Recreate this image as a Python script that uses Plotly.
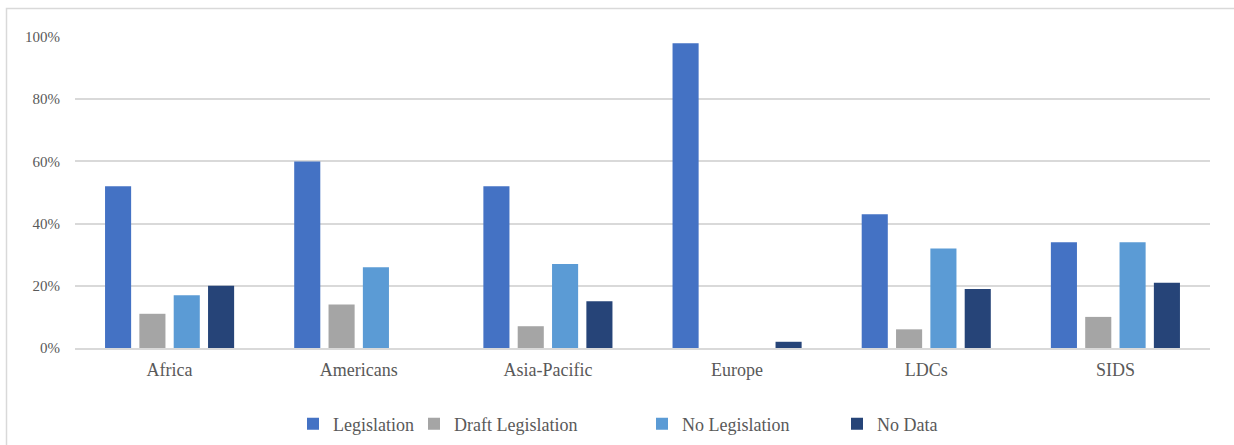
import plotly.graph_objects as go

categories = ["Africa", "Americans", "Asia-Pacific", "Europe", "LDCs", "SIDS"]
legislation = [52, 60, 52, 98, 43, 34]
draft_legislation = [11, 14, 7, 0, 6, 10]
no_legislation = [17, 26, 27, 0, 32, 34]
no_data = [20, 0, 15, 2, 19, 21]

series_names = ["Legislation", "Draft Legislation", "No Legislation", "No Data"]
series_values = [legislation, draft_legislation, no_legislation, no_data]
colors = ["#4472C4", "#A5A5A5", "#5B9BD5", "#264478"]

W, H = 1234, 445
L, R, T, B = 75, 24, 37, 97
pw, ph = W - L - R, H - T - B

def px_x(p):
    return (p - L) / pw

def px_y(p):
    return (H - B - p) / ph

font_family = "Liberation Serif"
txt_color = "#595959"

legend_ids = ["legend", "legend2", "legend3", "legend4"]
text_starts = [335, 456, 684, 879]

fig = go.Figure()
for name, vals, col, lid in zip(series_names, series_values, colors, legend_ids):
    fig.add_trace(go.Bar(
        x=categories, y=vals, name=name, marker_color=col,
        marker_line_width=0, legend=lid,
    ))

layout_legends = {}
for lid, ts in zip(legend_ids, text_starts):
    layout_legends[lid] = dict(
        x=px_x(ts - 42), xanchor="left",
        yref="container", y=1 - 424 / H, yanchor="middle",
        orientation="h",
        font=dict(family=font_family, size=18, color=txt_color),
        bgcolor="rgba(0,0,0,0)",
        itemwidth=30,
    )

fig.update_layout(
    width=W, height=H,
    margin=dict(l=L, r=R, t=T, b=B, autoexpand=False),
    paper_bgcolor="white", plot_bgcolor="white",
    barmode="group", bargap=0.274, bargroupgap=0.24,
    showlegend=True,
    **layout_legends,
    font=dict(family=font_family, color=txt_color),
    xaxis=dict(
        showgrid=False, showline=True, linecolor="#d9d9d9", linewidth=1.5,
        tickfont=dict(family=font_family, size=18, color=txt_color),
        ticks="", ticklabelstandoff=5, fixedrange=True,
    ),
    yaxis=dict(
        range=[0, 100], dtick=20, ticksuffix="%",
        showgrid=True, gridcolor="#d9d9d9", gridwidth=1.5,
        zeroline=False, showline=False,
        tickfont=dict(family=font_family, size=15, color=txt_color),
        ticks="", ticklabelstandoff=14, fixedrange=True,
    ),
    shapes=[dict(
        type="rect", xref="paper", yref="paper",
        x0=px_x(6.5), x1=px_x(1245), y0=px_y(460), y1=px_y(8.5),
        line=dict(color="#d9d9d9", width=1.5), fillcolor="rgba(0,0,0,0)",
        layer="below",
    )],
)

fig.write_html("out.html")
